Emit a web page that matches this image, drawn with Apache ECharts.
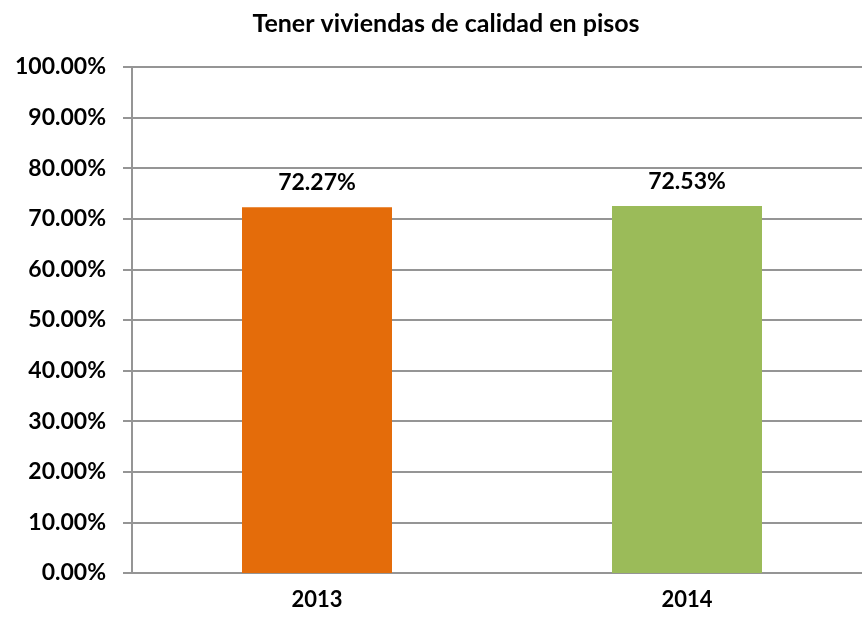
<!DOCTYPE html>
<html>
<head>
<meta charset="utf-8">
<script src="https://cdn.jsdelivr.net/npm/echarts@6/dist/echarts.min.js"></script>
<style>html,body{margin:0;padding:0;background:#fff}#c{width:862px;height:620px}</style>
</head>
<body>
<div id="c"></div>
<script>
const titleText = "Tener viviendas de calidad en pisos";
const categories = ["2013", "2014"];
const values = [72.27, 72.53];
const barColors = ["#E46C0A", "#9BBB59"];
const yMin = 0, yMax = 100, yStep = 10;

const FONT = "Lato";
const chart = echarts.init(document.getElementById('c'));
chart.setOption({
  animation: false,
  backgroundColor: '#ffffff',
  title: {
    text: titleText, left: 441, top: 6, textAlign: 'center',
    textStyle: {fontFamily: FONT, fontWeight: 'bold', fontSize: 25, color: '#000'}
  },
  grid: {left: 132, width: 740, top: 67, bottom: 47, containLabel: false, outerBoundsMode: 'none'},
  xAxis: {
    type: 'category', data: categories,
    axisLine: {show: true, lineStyle: {color: '#959595', width: 2}},
    axisTick: {show: false},
    axisLabel: {margin: 16, fontFamily: FONT, fontWeight: 'bold', fontSize: 22, color: '#000'}
  },
  yAxis: {
    type: 'value', min: yMin, max: yMax, interval: yStep,
    axisLine: {show: true, lineStyle: {color: '#959595', width: 2}},
    axisTick: {show: true, length: 9, inside: false, lineStyle: {color: '#959595', width: 2}},
    splitLine: {show: true, lineStyle: {color: '#959595', width: 2}},
    axisLabel: {margin: 26, fontFamily: FONT, fontWeight: 'bold', fontSize: 23, color: '#000',
      formatter: v => v.toFixed(2) + '%'}
  },
  series: [{
    type: 'bar', barWidth: 150,
    data: values.map((v, i) => ({value: v, itemStyle: {color: barColors[i]}})),
    label: {show: true, position: 'top', distance: 13, fontFamily: FONT, fontWeight: 'bold', fontSize: 23, color: '#000',
      formatter: p => p.value.toFixed(2) + '%'}
  }]
});
</script>
</body>
</html>
